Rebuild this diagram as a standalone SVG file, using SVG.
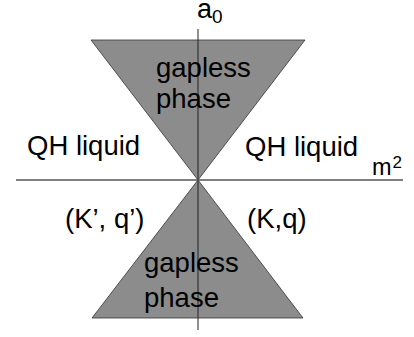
<svg xmlns="http://www.w3.org/2000/svg" width="414" height="337" viewBox="0 0 414 337">
<style>
text{font-family:"Liberation Sans",Arial,sans-serif;fill:#000;}
.lbl{font-size:27.5px;}
.tri{fill:#8c8c8c;stroke:#333;stroke-width:0.8;}
.ax{stroke:#808080;stroke-width:2;}
.vax{stroke:#222;stroke-width:1;}
</style>
<rect width="414" height="337" fill="#fff"/>
<g id="upper-phase">
<polygon class="tri" points="91,40 305,40 198,180"/>
</g>
<g id="lower-phase">
<polygon class="tri" points="198,180 303,318 92,318"/>
</g>
<g id="connectors">
<line class="ax" x1="16" y1="180" x2="403" y2="180"/>
<line class="vax" x1="198" y1="29" x2="198" y2="330"/>
</g>
<g id="labels">
<text class="lbl" x="156" y="77">gapless</text>
<text class="lbl" x="156" y="108">phase</text>
<text class="lbl" x="144" y="272">gapless</text>
<text class="lbl" x="144" y="307">phase</text>
<text class="lbl" x="27" y="155">QH liquid</text>
<text class="lbl" x="245" y="156">QH liquid</text>
<text class="lbl" x="65" y="228">(K’, q’)</text>
<text class="lbl" x="247" y="228">(K,q)</text>
<text x="197" y="17.5" font-size="27">a</text>
<text x="212" y="22.7" font-size="19">0</text>
<text x="372" y="175" font-size="23.5">m</text>
<text x="392.5" y="167.5" font-size="17">2</text>
</g>
</svg>
